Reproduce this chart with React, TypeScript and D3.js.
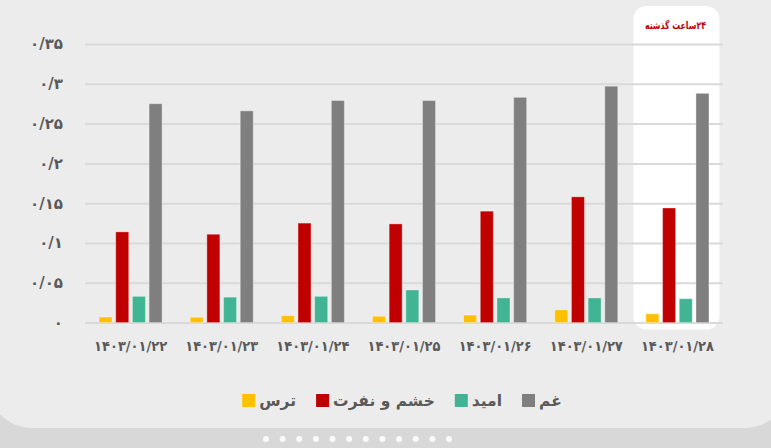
import React, { useEffect, useRef } from 'react';
import * as d3 from 'd3';

// dates (Persian calendar) shown on the x axis
const dates = [
  '۱۴۰۳/۰۱/۲۲',
  '۱۴۰۳/۰۱/۲۳',
  '۱۴۰۳/۰۱/۲۴',
  '۱۴۰۳/۰۱/۲۵',
  '۱۴۰۳/۰۱/۲۶',
  '۱۴۰۳/۰۱/۲۷',
  '۱۴۰۳/۰۱/۲۸',
];

const seriesNames = ['ترس', 'خشم و نفرت', 'امید', 'غم'];
const seriesColors = ['#FFC000', '#C00000', '#41B593', '#7F7F7F'];

const fear = [0.007, 0.0067, 0.0087, 0.008, 0.0095, 0.016, 0.011];
const anger = [0.114, 0.111, 0.125, 0.124, 0.140, 0.158, 0.144];
const hope = [0.033, 0.032, 0.033, 0.041, 0.031, 0.031, 0.030];
const sadness = [0.275, 0.266, 0.279, 0.279, 0.283, 0.297, 0.288];

const yTicks = [0, 0.05, 0.1, 0.15, 0.2, 0.25, 0.3, 0.35];
const yTickLabels = ['۰', '۰/۰۵', '۰/۱', '۰/۱۵', '۰/۲', '۰/۲۵', '۰/۳', '۰/۳۵'];

const highlightLabel = '۲۴ساعت گذشته';

const W = 771;
const H = 448;
const FONT = '"DejaVu Sans", sans-serif';

const Chart = () => {
  const ref = useRef<SVGSVGElement>(null);

  useEffect(() => {
    const values = [fear, anger, hope, sadness];
    const rows = dates.map((d, i) => ({
      date: d,
      vals: values.map((s, k) => ({ key: seriesNames[k], color: seriesColors[k], v: s[i] })),
    }));

    const svg = d3.select(ref.current);
    svg.selectAll('*').remove();

    // background
    svg.append('rect').attr('width', W).attr('height', H).attr('fill', '#d8d8d8');
    svg.append('rect')
      .attr('x', -12).attr('y', -60)
      .attr('width', W + 30).attr('height', 488)
      .attr('rx', 44)
      .attr('fill', '#ececec');

    // dots at the bottom
    const dotX = d3.scalePoint().domain(d3.range(12).map(String)).range([266, 449]);
    svg.append('g')
      .selectAll('circle')
      .data(d3.range(12))
      .join('circle')
      .attr('cx', d => dotX(String(d))!)
      .attr('cy', 439)
      .attr('r', 3)
      .attr('fill', '#fafafa');

    const x0 = d3.scaleBand().domain(dates).range([85, 723]).paddingInner(0.268).paddingOuter(0.134);
    const x1 = d3.scaleBand().domain(seriesNames).range([0, x0.bandwidth()]).paddingInner(0.22).paddingOuter(0.11);
    const y = d3.scaleLinear().domain([0, 0.35]).range([322.6, 44]);

    // highlight panel for the last day
    const last = dates[dates.length - 1];
    const cx = x0(last)! + x0.bandwidth() / 2;
    svg.append('rect')
      .attr('x', cx - 44)
      .attr('y', y(0.35) - 38)
      .attr('width', 86)
      .attr('height', y(0) - y(0.35) + 45)
      .attr('rx', 13)
      .attr('fill', '#ffffff');

    svg.append('text')
      .attr('x', cx - 2)
      .attr('y', 29)
      .attr('direction', 'rtl')
      .attr('text-anchor', 'middle')
      .attr('font-family', FONT)
      .attr('font-weight', 'bold')
      .attr('font-size', 10.5)
      .attr('textLength', 61)
      .attr('lengthAdjust', 'spacingAndGlyphs')
      .attr('fill', '#C00000')
      .text(highlightLabel);

    // grid + y labels
    const yAxis = svg.append('g')
      .attr('transform', 'translate(85,0)')
      .call(
        d3.axisLeft(y)
          .tickValues(yTicks)
          .tickSize(-(723 - 85))
          .tickPadding(22)
          .tickFormat((d, i) => yTickLabels[i])
      );
    yAxis.select('.domain').remove();
    yAxis.selectAll('.tick line').attr('stroke', '#d9d9d9').attr('stroke-width', 2);
    yAxis.selectAll('.tick text')
      .attr('font-family', FONT)
      .attr('font-weight', 'bold')
      .attr('font-size', 15)
      .attr('fill', '#595959');

    // x labels
    const xAxis = svg.append('g')
      .attr('transform', `translate(0,${y(0)})`)
      .call(d3.axisBottom(x0).tickSize(0).tickPadding(18));
    xAxis.select('.domain').remove();
    xAxis.selectAll('.tick text')
      .attr('font-family', FONT)
      .attr('font-weight', 'bold')
      .attr('font-size', 14)
      .attr('textLength', 73)
      .attr('lengthAdjust', 'spacingAndGlyphs')
      .attr('fill', '#595959');

    // bars
    svg.append('g')
      .selectAll('g')
      .data(rows)
      .join('g')
      .attr('transform', d => `translate(${x0(d.date)},0)`)
      .selectAll('rect')
      .data(d => d.vals)
      .join('rect')
      .attr('x', d => x1(d.key)!)
      .attr('y', d => y(d.v))
      .attr('width', x1.bandwidth())
      .attr('height', d => y(0) - y(d.v))
      .attr('fill', d => d.color)
      .attr('stroke', 'rgba(255,255,255,0.35)')
      .attr('stroke-width', 1);

    // legend, laid out left to right and centred
    const legend = svg.append('g').attr('transform', 'translate(0,401)');
    const items = legend.selectAll('g')
      .data(seriesNames)
      .join('g');
    items.append('rect')
      .attr('width', 13)
      .attr('height', 13)
      .attr('y', -7)
      .attr('fill', (d, i) => seriesColors[i]);
    items.append('text')
      .attr('x', 17)
      .attr('dy', '0.3em')
      .attr('font-family', FONT)
      .attr('font-weight', 'bold')
      .attr('font-size', 15.5)
      .attr('fill', '#595959')
      .text(d => d);

    let pos = 0;
    const offsets: number[] = [];
    items.each(function () {
      const t = (this as SVGGElement).querySelector('text') as SVGTextElement;
      offsets.push(pos);
      pos += 17 + t.getComputedTextLength() + 20;
    });
    const total = pos - 20;
    const start = 402 - total / 2;
    items.attr('transform', (d, i) => `translate(${start + offsets[i]},0)`);
  }, []);

  return <svg ref={ref} width={W} height={H} style={{ position: 'absolute', left: 0, top: 0 }} />;
};

export default function App() {
  return <Chart />;
}
